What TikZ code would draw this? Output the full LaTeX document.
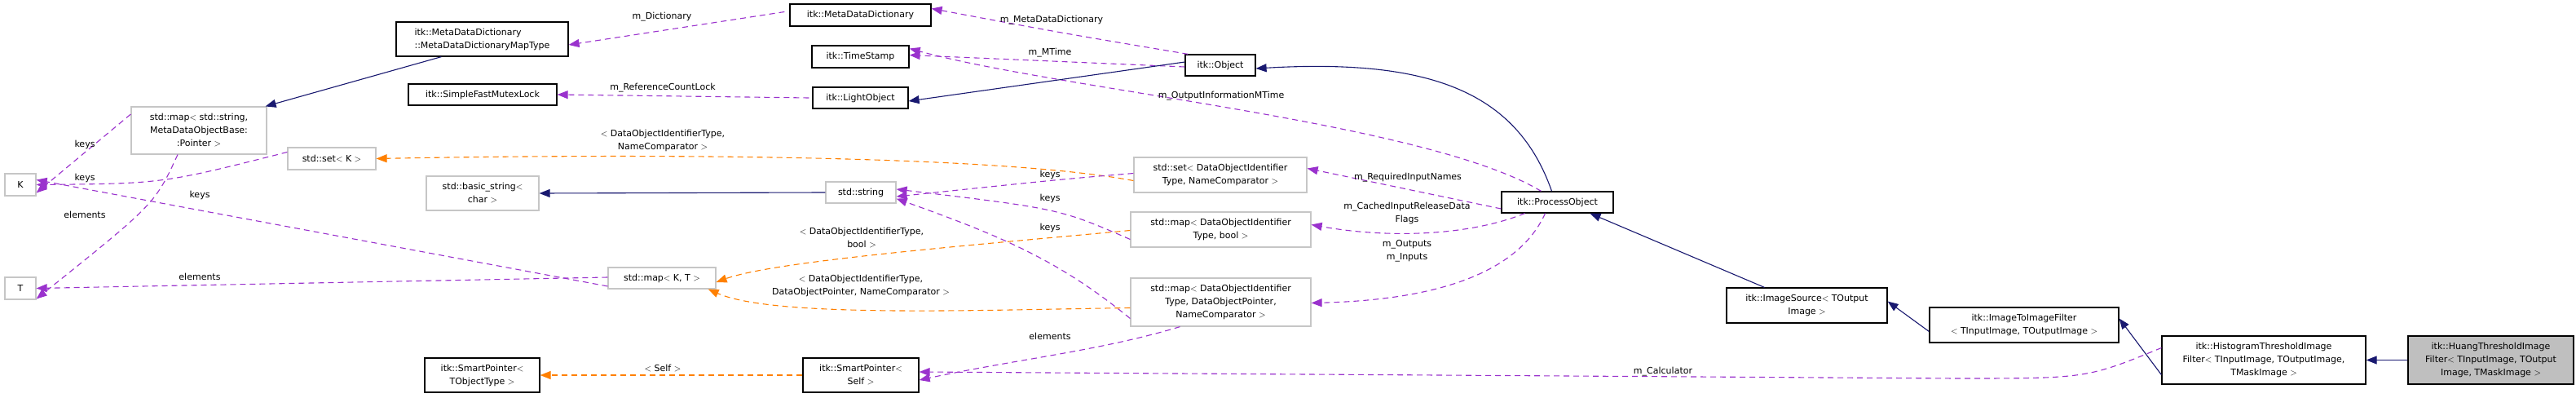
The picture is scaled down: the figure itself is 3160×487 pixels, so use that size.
\documentclass[tikz,border=0pt]{standalone}
\usepackage{fontspec}
\setmainfont{DejaVu Sans}
\usetikzlibrary{arrows.meta}
\begin{document}
\begin{tikzpicture}[x=1pt,y=-1pt,
  font=\fontsize{11}{16}\selectfont,
  box/.style={draw=black,line width=1.2pt,fill=white,align=center,inner sep=2pt},
  gbox/.style={box,draw=gray!45},
  tip/.style={-{Triangle[length=13pt,width=10pt]}},
  pur/.style={tip,draw=violet!70!magenta!90!white,color={rgb,255:red,154;green,50;blue,205},line width=1.1pt,dash pattern=on 7pt off 5pt},
  ora/.style={tip,color=orange,line width=1.1pt,dash pattern=on 7pt off 5pt},
  nav/.style={tip,color={rgb,255:red,25;green,25;blue,112},line width=1.1pt},
  lab/.style={align=center,inner sep=0pt,text=black}]
\useasboundingbox (0,0) rectangle (3160,487);
% nodes
\node[box,minimum width=211pt,minimum height=42pt,align=left] (mddm) at (591.5,48) {itk::MetaDataDictionary\\::MetaDataDictionaryMapType};
\node[box,minimum width=182pt,minimum height=26pt] (sfml) at (592,116) {itk::SimpleFastMutexLock};
\node[gbox,minimum width=166pt,minimum height=58pt] (smeta) at (244,160) {std::map$<$ std::string,\\MetaDataObjectBase:\\:Pointer $>$};
\node[gbox,minimum width=38pt,minimum height=27pt] (K) at (25,226.5) {K};
\node[gbox,minimum width=38pt,minimum height=27pt] (T) at (25,353.5) {T};
\node[gbox,minimum width=108pt,minimum height=27pt] (setK) at (407,194.5) {std::set$<$ K $>$};
\node[gbox,minimum width=138pt,minimum height=42pt] (bstr) at (592,237) {std::basic\_string$<$\\char $>$};
\node[box,minimum width=141pt,minimum height=42pt] (spt) at (591.5,460) {itk::SmartPointer$<$\\TObjectType $>$};
\node[box,minimum width=173pt,minimum height=27pt] (mdd) at (1055.5,18.5) {itk::MetaDataDictionary};
\node[box,minimum width=119pt,minimum height=27pt] (ts) at (1055.5,69.5) {itk::TimeStamp};
\node[box,minimum width=117pt,minimum height=26pt] (lo) at (1055.5,120) {itk::LightObject};
\node[gbox,minimum width=86pt,minimum height=26pt] (str) at (1056,236) {std::string};
\node[gbox,minimum width=132pt,minimum height=26pt] (mkt) at (812,341) {std::map$<$ K, T $>$};
\node[box,minimum width=142pt,minimum height=42pt] (sps) at (1056,460) {itk::SmartPointer$<$\\Self $>$};
\node[box,minimum width=86pt,minimum height=26pt] (obj) at (1497,80) {itk::Object};
\node[gbox,minimum width=212pt,minimum height=43pt] (sdoi) at (1497,214.5) {std::set$<$ DataObjectIdentifier\\Type, NameComparator $>$};
\node[gbox,minimum width=221pt,minimum height=43pt] (mb) at (1497.5,281.5) {std::map$<$ DataObjectIdentifier\\Type, bool $>$};
\node[gbox,minimum width=221pt,minimum height=59pt] (mdop) at (1497.5,370.5) {std::map$<$ DataObjectIdentifier\\Type, DataObjectPointer,\\NameComparator $>$};
\node[box,minimum width=137pt,minimum height=26pt] (po) at (1910.5,248) {itk::ProcessObject};
\node[box,minimum width=197pt,minimum height=43pt] (is) at (2216.5,374.5) {itk::ImageSource$<$ TOutput\\Image $>$};
\node[box,minimum width=232pt,minimum height=43pt] (i2i) at (2483,398.5) {itk::ImageToImageFilter\\$<$ TInputImage, TOutputImage $>$};
\node[box,minimum width=250pt,minimum height=59pt] (hist) at (2777,441.5) {itk::HistogramThresholdImage\\Filter$<$ TInputImage, TOutputImage,\\TMaskImage $>$};
\node[box,fill=gray!50,minimum width=203pt,minimum height=59pt] (huang) at (3055.5,441.5) {itk::HuangThresholdImage\\Filter$<$ TInputImage, TOutput\\Image, TMaskImage $>$};
% edges
\draw[nav] ([xshift=-50pt]mddm.south) -- ([xshift=-2pt]smeta.north east);
\draw[pur] ([xshift=-6pt,yshift=4pt]mdd.west) -- ([yshift=-7pt]mddm.east);
\node[lab] at (812,21) {m\_Dictionary};
\draw[pur] ([xshift=4pt]obj.north west) .. controls (1300,40) .. ([yshift=8pt]mdd.east);
\node[lab] at (1290,25) {m\_MetaDataDictionary};
\draw[pur] ([yshift=-2pt]obj.west) -- ([yshift=2pt]ts.east);
\node[lab] at (1288,65) {m\_MTime};
\draw[pur] ([xshift=-20pt]po.north) .. controls (1750,150) and (1300,110) .. ([yshift=10pt]ts.east);
\node[lab] at (1498,118) {m\_OutputInformationMTime};
\draw[nav] ([yshift=4pt]obj.west) -- ([yshift=-4pt]lo.east);
\draw[pur] ([xshift=-4pt]lo.west) -- (sfml.east);
\node[lab] at (813,108) {m\_ReferenceCountLock};
\draw[nav] ([xshift=-7pt]po.north) .. controls (1860,110) and (1750,72) .. ([yshift=-4pt]obj.east);
\draw[ora] ([yshift=-7pt]sdoi.west) .. controls (1200,186) and (700,190) .. (setK.east);
\node[lab] at (813,172) {$<$ DataObjectIdentifierType,\\NameComparator $>$};
\draw[pur] ([yshift=2pt]sdoi.west) .. controls (1300,220) .. ([yshift=-5pt]str.east);
\node[lab] at (1288,214) {keys};
\draw[pur] ([yshift=-8pt]po.west) -- ([yshift=8pt]sdoi.east);
\node[lab] at (1727,218) {m\_RequiredInputNames};
\draw[pur] ([xshift=-40pt]po.south) .. controls (1800,290) and (1700,292) .. ([yshift=6pt]mb.east);
\node[lab] at (1726,261) {m\_CachedInputReleaseData\\Flags};
\draw[pur] ([xshift=-15pt]po.south) .. controls (1860,340) and (1750,368) .. ([yshift=-1pt]mdop.east);
\node[lab] at (1726,308) {m\_Outputs\\m\_Inputs};
\draw[nav] (str.west) -- (bstr.east);
\draw[pur] ([yshift=-12pt]mb.west) .. controls (1300,256) .. ([yshift=4pt]str.east);
\node[lab] at (1288,243) {keys};
\draw[pur] ([yshift=-20pt]mdop.west) .. controls (1300,320) and (1230,290) .. ([yshift=6pt]str.south east);
\node[lab] at (1288,279) {keys};
\draw[ora] ([yshift=-1pt]mb.west) .. controls (1200,300) and (950,320) .. ([yshift=-5pt]mkt.east);
\node[lab] at (1057,292) {$<$ DataObjectIdentifierType,\\bool $>$};
\draw[ora] ([yshift=-7pt]mdop.west) .. controls (1200,380) and (950,390) .. ([xshift=-10pt]mkt.south east);
\node[lab] at (1056,350) {$<$ DataObjectIdentifierType,\\DataObjectPointer, NameComparator $>$};
\draw[pur] ([xshift=-50pt]mdop.south) .. controls (1350,430) and (1250,440) .. ([yshift=-6pt]sps.east);
\node[lab] at (1288,412) {elements};
\draw[pur] ([yshift=15pt]hist.west) .. controls (2560,464) .. (2400,464) -- ([yshift=4pt]sps.east);
\node[lab] at (2040,456) {m\_Calculator};
\draw[ora] (sps.west) -- (spt.east);
\node[lab] at (813,452) {$<$ Self $>$};
\draw[pur] ([yshift=-10pt]mkt.west) -- ([yshift=6pt]K.east);
\node[lab] at (245,239) {keys};
\draw[pur] ([yshift=1pt]mkt.west) -- (T.east);
\node[lab] at (245,339) {elements};
\draw[pur] ([yshift=20pt]smeta.west) -- ([yshift=-10pt]K.east);
\node[lab] at (104,177) {keys};
\draw[pur] ([xshift=-26pt]smeta.south) .. controls (190,250) .. ([yshift=-13pt]T.east);
\node[lab] at (104,263) {elements};
\draw[pur] ([yshift=8pt]setK.west) .. controls (200,225) .. (K.east);
\node[lab] at (104,218) {keys};
\draw[nav] ([xshift=-52pt]is.north) -- ([xshift=40pt]po.south);
\draw[nav] ([yshift=-8pt]i2i.west) -- ([yshift=5pt]is.east);
\draw[nav] ([yshift=-18pt]hist.west) -- ([yshift=8pt]i2i.east);
\draw[nav] (huang.west) -- (hist.east);
\end{tikzpicture}
\end{document}
